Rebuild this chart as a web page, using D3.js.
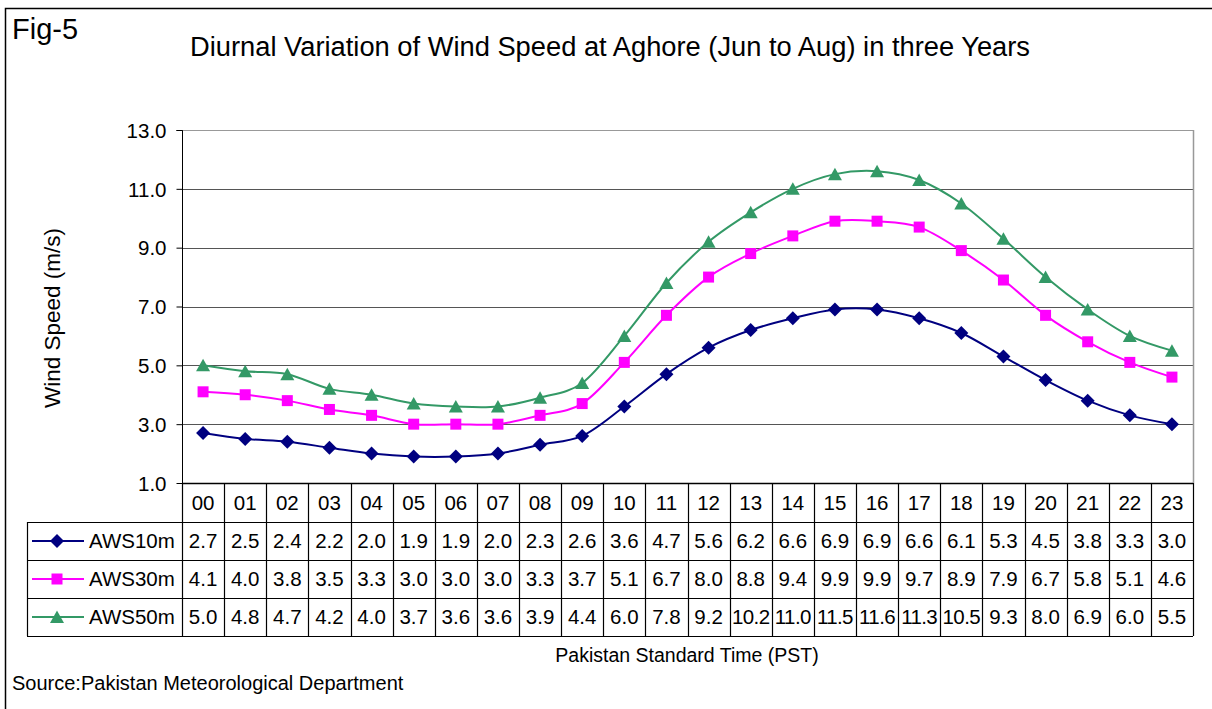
<!DOCTYPE html>
<html><head><meta charset="utf-8">
<script src="https://cdn.jsdelivr.net/npm/d3@7"></script>
<style>body{margin:0;background:#fff}svg{display:block;font-family:"Liberation Sans",Arial,sans-serif}</style>
</head><body><svg id="c" width="1212" height="709"></svg>
<script>
const hours = ["00","01","02","03","04","05","06","07","08","09","10","11","12","13","14","15","16","17","18","19","20","21","22","23"];
const seriesNames = ["AWS10m","AWS30m","AWS50m"];
const aws10 = [2.7,2.5,2.4,2.2,2.0,1.9,1.9,2.0,2.3,2.6,3.6,4.7,5.6,6.2,6.6,6.9,6.9,6.6,6.1,5.3,4.5,3.8,3.3,3.0];
const aws30 = [4.1,4.0,3.8,3.5,3.3,3.0,3.0,3.0,3.3,3.7,5.1,6.7,8.0,8.8,9.4,9.9,9.9,9.7,8.9,7.9,6.7,5.8,5.1,4.6];
const aws50 = [5.0,4.8,4.7,4.2,4.0,3.7,3.6,3.6,3.9,4.4,6.0,7.8,9.2,10.2,11.0,11.5,11.6,11.3,10.5,9.3,8.0,6.9,6.0,5.5];
const yTicks = [1,3,5,7,9,11,13];
const colors = ["#000080","#FF00FF","#339966"];
const seriesData = [aws10, aws30, aws50];

const svg = d3.select("#c");
const L = 182, R = 1193, T = 130, B = 483;
const x = d3.scaleBand().domain(hours).range([L, R]);
const y = d3.scaleLinear().domain([1,13]).range([B, T]);

// marker shapes
const diamondPath = "M0,-7L7,0L0,7L-7,0Z";
const squarePath = "M-5.5,-5.5H5.5V5.5H-5.5Z";
const trianglePath = "M0,-6.5L7,6H-7Z";
const markers = [diamondPath, squarePath, trianglePath];

// outer frame
svg.append("path").attr("d","M5.5,709 V8.5 H1212").attr("fill","none").attr("stroke","#000").attr("stroke-width",1.5);

svg.append("text").attr("x",12).attr("y",39).attr("font-size",29).text("Fig-5");
svg.append("text").attr("x",610).attr("y",56).attr("text-anchor","middle").attr("font-size",27)
  .attr("textLength",840).attr("lengthAdjust","spacingAndGlyphs")
  .text("Diurnal Variation of Wind Speed at Aghore (Jun to Aug) in three Years");

// gridlines
svg.append("g").selectAll("line").data(yTicks.filter(d=>d>1)).join("line")
  .attr("x1",L).attr("x2",R).attr("y1",d=>Math.round(y(d))+0.5).attr("y2",d=>Math.round(y(d))+0.5)
  .attr("stroke",d=>d===13?"#999":"#555").attr("stroke-width",1);
// right border
svg.append("line").attr("x1",R+0.5).attr("x2",R+0.5).attr("y1",T).attr("y2",B).attr("stroke","#999").attr("stroke-width",1.5);

// y axis
const yAxis = d3.axisLeft(y).tickValues(yTicks).tickFormat(d3.format(".1f")).tickSize(6).tickPadding(10);
const ya = svg.append("g").attr("transform",`translate(${L+0.5},0)`).call(yAxis);
ya.select(".domain").attr("stroke","#000").attr("d",`M-6,${T+0.5}H0V${B}`);
ya.selectAll("text").attr("font-size",20.5).attr("fill","#000").attr("font-family","Liberation Sans, Arial, sans-serif").attr("dy","0.35em");
ya.selectAll(".tick line").attr("stroke","#000");

svg.append("text").attr("transform","translate(60,318) rotate(-90)").attr("text-anchor","middle")
  .attr("font-size",22.5).text("Wind Speed (m/s)");

// table
const rowH = [B, 522, 560, 598, 636];
const TL = 27;
const tg = svg.append("g").attr("stroke","#000").attr("stroke-width",1.2);
tg.append("line").attr("x1",L).attr("x2",R).attr("y1",B+0.5).attr("y2",B+0.5).attr("stroke-width",1.5);
[522,560,598,636].forEach(yy=>tg.append("line").attr("x1",TL).attr("x2",R).attr("y1",yy+0.5).attr("y2",yy+0.5));
tg.append("line").attr("x1",TL+0.5).attr("x2",TL+0.5).attr("y1",522).attr("y2",636);
hours.forEach(h=>tg.append("line").attr("x1",Math.round(x(h))+0.5).attr("x2",Math.round(x(h))+0.5).attr("y1",B).attr("y2",636));
tg.append("line").attr("x1",R+0.5).attr("x2",R+0.5).attr("y1",B).attr("y2",636);

svg.append("g").selectAll("text").data(hours).join("text")
  .attr("x",d=>x(d)+x.bandwidth()/2).attr("y",510).attr("text-anchor","middle").attr("font-size",20.5).text(d=>d);

seriesData.forEach((vals,i)=>{
  const cy = (rowH[i+1]+rowH[i+2])/2;
  svg.append("g").selectAll("text").data(vals).join("text")
    .attr("x",(d,j)=>x(hours[j])+x.bandwidth()/2).attr("y",cy+7).attr("text-anchor","middle")
    .attr("font-size",20.5).attr("letter-spacing",d=>d>=10?-0.6:0).text(d=>d.toFixed(1));
  svg.append("line").attr("x1",32).attr("x2",84).attr("y1",cy).attr("y2",cy).attr("stroke",colors[i]).attr("stroke-width",2);
  svg.append("path").attr("d",markers[i]).attr("transform",`translate(57,${cy})`).attr("fill",colors[i]);
  svg.append("text").attr("x",89).attr("y",cy+7).attr("font-size",20.5).text(seriesNames[i]);
});

// lines
const line = d3.line().x((d,j)=>x(hours[j])+x.bandwidth()/2).y(d=>y(d)).curve(d3.curveCatmullRom.alpha(0));
seriesData.forEach((vals,i)=>{
  svg.append("path").datum(vals).attr("d",line).attr("fill","none").attr("stroke",colors[i]).attr("stroke-width",2);
  svg.append("g").selectAll("path").data(vals).join("path")
    .attr("d",markers[i])
    .attr("transform",(d,j)=>`translate(${x(hours[j])+x.bandwidth()/2},${y(d)})`)
    .attr("fill",colors[i]);
});

svg.append("text").attr("x",687).attr("y",662).attr("text-anchor","middle").attr("font-size",19.5).text("Pakistan Standard Time (PST)");
svg.append("text").attr("x",12).attr("y",690).attr("font-size",20).text("Source:Pakistan Meteorological Department");
</script></body></html>
